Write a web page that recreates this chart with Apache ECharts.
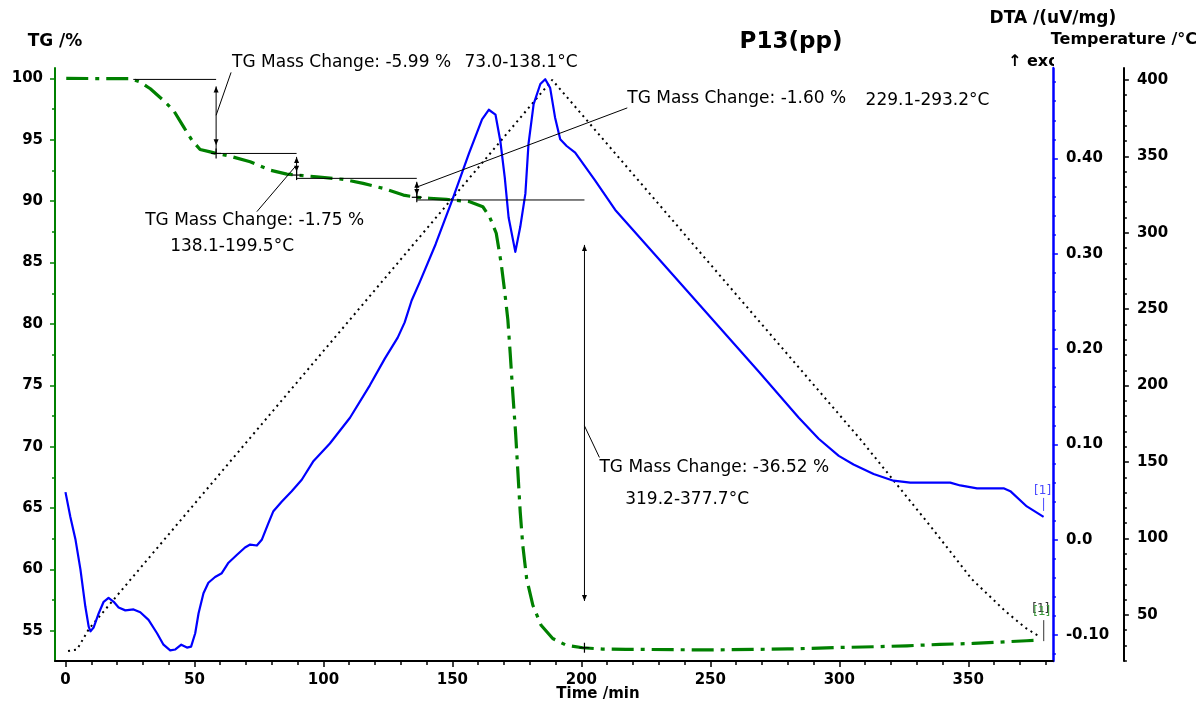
<!DOCTYPE html>
<html>
<head>
<meta charset="utf-8">
<script src="https://cdn.jsdelivr.net/npm/echarts@6/dist/echarts.min.js"></script>
<style>html,body{margin:0;padding:0;background:#fff}#chart{width:1200px;height:701px}</style>
</head>
<body>
<div id="chart"></div>
<script>
// ---------------- data ----------------
// time in min
const timeMajorTicks = [0, 50, 100, 150, 200, 250, 300, 350];
const tgMajorTicks = [55, 60, 65, 70, 75, 80, 85, 90, 95, 100];
const dtaMajorTicks = [-0.1, 0, 0.1, 0.2, 0.3, 0.4];
const tempMajorTicks = [50, 100, 150, 200, 250, 300, 350, 400];

// axis extents
const X_MIN = -4.06, X_MAX = 382.8;
const TG_MIN = 52.55, TG_MAX = 100.85;
const DTA_MIN = -0.1271, DTA_MAX = 0.4948;
const TEMP_MIN = 19.8, TEMP_MAX = 407.8;

// TG /% versus time
const tgData = [
  [0.3,100.0],[25.1,99.98],[29.0,99.70],[32.9,99.16],[38.0,98.21],[41.9,97.40],[45.8,96.05],
  [49.0,94.97],[52.2,94.21],[56.1,94.02],[58.4,93.89],[63.8,93.67],[71.6,93.21],[79.3,92.53],
  [85.8,92.21],[89.6,92.13],[97.4,91.99],[107.7,91.78],[115.4,91.45],[123.1,91.05],[131.0,90.50],
  [136.1,90.32],[141.2,90.24],[147.7,90.15],[156.7,89.96],[161.8,89.55],[164.4,88.74],[167.0,87.39],
  [168.9,84.96],[170.2,82.79],[171.5,80.36],[172.4,77.65],[173.4,74.41],[174.5,71.16],[175.4,67.91],
  [176.3,64.67],[177.3,61.96],[178.8,59.25],[181.2,57.09],[184.4,55.46],[188.9,54.38],[194.1,53.84],
  [200.5,53.63],[208.2,53.52],[217.3,53.50],[250.0,53.45],[280.0,53.53],[300.0,53.65],[313.3,53.71],
  [326.2,53.79],[339.0,53.90],[352.0,53.98],[365.0,54.12],[372.6,54.20],[377.7,54.25]
];

// DTA /(uV/mg) versus time
const dtaData = [
  [0,0.050],[1.9,0.024],[3.9,0.000],[5.8,-0.031],[7.7,-0.070],[9.0,-0.091],[9.7,-0.096],[10.9,-0.092],
  [12.9,-0.077],[14.8,-0.065],[16.7,-0.061],[18.7,-0.065],[20.6,-0.071],[23.2,-0.074],[26.4,-0.073],
  [29.0,-0.076],[32.2,-0.084],[35.5,-0.098],[38.0,-0.110],[40.6,-0.116],[42.6,-0.115],[44.9,-0.110],
  [47.1,-0.113],[48.7,-0.112],[50.3,-0.098],[51.6,-0.077],[53.5,-0.056],[55.4,-0.045],[58.0,-0.039],
  [60.6,-0.035],[63.2,-0.024],[66.4,-0.016],[69.6,-0.008],[71.6,-0.005],[74.2,-0.006],[76.1,0.000],
  [78.6,0.017],[80.6,0.030],[83.8,0.040],[87.7,0.051],[91.6,0.063],[96.0,0.082],[102.5,0.101],
  [110.3,0.128],[118.0,0.162],[123.8,0.190],[128.8,0.212],[131.5,0.228],[134.2,0.251],[137.3,0.270],
  [143.5,0.310],[149.9,0.356],[156.4,0.405],[161.5,0.441],[164.1,0.451],[166.7,0.446],[168.6,0.418],
  [170.3,0.380],[171.8,0.338],[174.4,0.302],[176.3,0.328],[178.3,0.363],[179.5,0.415],[181.5,0.457],
  [184.1,0.478],[186.0,0.483],[187.9,0.474],[189.8,0.443],[191.8,0.420],[194.3,0.413],[197.6,0.406],
  [205.3,0.377],[213.4,0.345],[230.2,0.294],[245.6,0.247],[268.9,0.176],[284.3,0.128],[292.0,0.106],
  [299.8,0.088],[305.5,0.079],[313.3,0.069],[321.0,0.062],[327.5,0.060],[343.0,0.060],[346.9,0.057],
  [353.4,0.054],[363.7,0.054],[366.3,0.051],[372.7,0.035],[379.2,0.024]
];

// Temperature /°C versus time
const tempData = [
  [1.0,26.3],[4.5,27.3],[9.0,40.6],[188.7,400.0],[308.2,164.8],[335.3,108.1],
  [351.4,73.3],[364.3,52.5],[372.0,41.7],[377.2,36.2]
];

// TG step annotations (time, TG %)
const stepLabels = ['TG Mass Change: -5.99 %', 'TG Mass Change: -1.75 %', 'TG Mass Change: -1.60 %', 'TG Mass Change: -36.52 %'];
const stepRanges = ['73.0-138.1°C', '138.1-199.5°C', '229.1-293.2°C', '319.2-377.7°C'];
const stepStartT = [26.3, 58.4, 89.6, 136.2];
const stepEndT = [58.4, 89.6, 136.2, 201.2];
const stepTopTG = [99.92, 93.89, 91.86, 90.10];
const stepBottomTG = [93.89, 92.13, 90.32, 53.63];
const arrowTopTG = [99.35, 93.61, 91.58, 86.44];
const arrowBottomTG = [94.55, 92.39, 90.50, 57.44];
const leaderFrom = [[58.4, 97.0], [89.0, 92.8], [136.2, 91.15], [201.2, 71.7]];
const leaderTo = [[64.2, 100.49], [74.2, 89.15], [217.8, 97.6], [207.0, 69.13]];
const labelPos = [[64.6, 101.30], [30.9, 88.39], [217.8, 98.40], [207.0, 68.34]];
const rangePos = [[154.7, 101.30], [40.6, 86.28], [310.2, 98.20], [217.0, 65.73]];

// ---------------- chart ----------------
function minorTicks(min, max, step, majors) {
  const out = [];
  for (let v = Math.ceil(min / step) * step; v <= max + 1e-9; v += step) {
    const r = Math.round(v * 1000) / 1000;
    if (!majors.some(m => Math.abs(m - r) < 1e-6)) out.push(r);
  }
  return out;
}
const FONT = 'DejaVu Sans';
const lblStyle = { color: '#000', fontFamily: FONT, fontWeight: 'bold', fontSize: 15 };
const nameStyle = (size) => ({ color: '#000', fontFamily: FONT, fontWeight: 'bold', fontSize: size });

const chart = echarts.init(document.getElementById('chart'), null, { renderer: 'canvas' });

function mainY(opts) {
  return Object.assign({
    type: 'value', gridIndex: 0, splitLine: { show: false }, scale: true
  }, opts);
}

const option = {
  animation: false,
  backgroundColor: '#fff',
  textStyle: { fontFamily: FONT },
  grid: { left: 55, right: 145, top: 68, bottom: 40 },
  xAxis: [
    {
      type: 'value', min: X_MIN, max: X_MAX, position: 'bottom',
      axisLine: { show: true, onZero: false, lineStyle: { color: '#000', width: 2 } },
      axisTick: { show: true, length: 6, lineStyle: { color: '#000', width: 1.5 }, customValues: timeMajorTicks },
      axisLabel: { customValues: timeMajorTicks, margin: 12, ...lblStyle },
      splitLine: { show: false }
    },
    {
      type: 'value', min: X_MIN, max: X_MAX, position: 'bottom',
      axisLine: { show: false, onZero: false },
      axisTick: { show: true, length: 4, lineStyle: { color: '#000', width: 1.5 }, customValues: minorTicks(X_MIN, X_MAX, 10, timeMajorTicks) },
      axisLabel: { show: false }, splitLine: { show: false }
    }
  ],
  yAxis: [
    mainY({
      min: TG_MIN, max: TG_MAX, position: 'left',
      name: 'TG /%', nameLocation: 'end', nameGap: 18, nameTextStyle: nameStyle(17),
      axisLine: { show: true, onZero: false, lineStyle: { color: '#008000', width: 2 } },
      axisTick: { show: true, length: 5, lineStyle: { color: '#008000', width: 1.5 }, customValues: tgMajorTicks },
      axisLabel: { customValues: tgMajorTicks, margin: 12, ...lblStyle }
    }),
    mainY({
      min: TG_MIN, max: TG_MAX, position: 'left',
      axisLine: { show: false, onZero: false },
      axisTick: { show: true, length: 3, lineStyle: { color: '#008000', width: 1.5 }, customValues: minorTicks(TG_MIN, TG_MAX, 2.5, tgMajorTicks) },
      axisLabel: { show: false }
    }),
    mainY({
      min: DTA_MIN, max: DTA_MAX, position: 'right', offset: 0,
      name: 'DTA /(uV/mg)', nameLocation: 'end', nameGap: 41, nameTextStyle: nameStyle(17),
      axisLine: { show: true, onZero: false, lineStyle: { color: '#0000ff', width: 2.5 } },
      axisTick: { show: true, length: 5, lineStyle: { color: '#0000ff', width: 1.5 }, customValues: dtaMajorTicks },
      axisLabel: { customValues: dtaMajorTicks, margin: 13, ...lblStyle,
        formatter: v => (Math.abs(v) < 1e-9 ? '0.0' : v.toFixed(2)) }
    }),
    mainY({
      min: DTA_MIN, max: DTA_MAX, position: 'right', offset: 0,
      axisLine: { show: false, onZero: false },
      axisTick: { show: true, length: 3, lineStyle: { color: '#0000ff', width: 1.5 }, customValues: minorTicks(DTA_MIN, DTA_MAX, 0.02, dtaMajorTicks) },
      axisLabel: { show: false }
    }),
    mainY({
      min: TEMP_MIN, max: TEMP_MAX, position: 'right', offset: 71,
      name: 'Temperature /°C', nameLocation: 'end', nameGap: 20, nameTextStyle: nameStyle(16),
      axisLine: { show: true, onZero: false, lineStyle: { color: '#000', width: 2 } },
      axisTick: { show: true, length: 5, lineStyle: { color: '#000', width: 1.5 }, customValues: tempMajorTicks },
      axisLabel: { customValues: tempMajorTicks, margin: 13, ...lblStyle }
    }),
    mainY({
      min: TEMP_MIN, max: TEMP_MAX, position: 'right', offset: 71,
      axisLine: { show: false, onZero: false },
      axisTick: { show: true, length: 3, lineStyle: { color: '#000', width: 1.5 }, customValues: minorTicks(TEMP_MIN, TEMP_MAX, 10, tempMajorTicks) },
      axisLabel: { show: false }
    })
  ],
  series: [
    {
      name: 'Temperature', type: 'line', xAxisIndex: 0, yAxisIndex: 4, data: tempData,
      showSymbol: false, symbol: 'none', z: 2,
      lineStyle: { color: '#000', width: 2, type: [2, 4], cap: 'butt' }
    },
    {
      name: 'DTA', type: 'line', xAxisIndex: 0, yAxisIndex: 2, data: dtaData,
      showSymbol: false, symbol: 'none', smooth: false, z: 3,
      lineStyle: { color: '#0000ff', width: 2.2, join: 'round' }
    },
    {
      name: 'TG', type: 'line', xAxisIndex: 0, yAxisIndex: 0, data: tgData,
      showSymbol: false, symbol: 'none', smooth: false, z: 4,
      lineStyle: { color: '#008000', width: 3.2, type: [22, 7, 4, 7], cap: 'butt', join: 'round' }
    }
  ]
};
chart.setOption(option);

// ---------------- annotations (positioned through the axes) ----------------
function px(t, v, yi) { return chart.convertToPixel({ xAxisIndex: 0, yAxisIndex: yi || 0 }, [t, v]); }
const g = [];
const K = '#000';
function seg(a, b, color, w) {
  g.push({ type: 'line', z: 50, shape: { x1: a[0], y1: a[1], x2: b[0], y2: b[1] }, style: { stroke: color || K, lineWidth: w || 1 } });
}
function arrowHead(p, dir) { // dir -1 = up, +1 = down
  g.push({ type: 'polygon', z: 51, shape: { points: [[p[0], p[1]], [p[0] - 2.5, p[1] - dir * 6], [p[0] + 2.5, p[1] - dir * 6]] }, style: { fill: K } });
}
function cross(p) {
  seg([p[0] - 5, p[1]], [p[0] + 5, p[1]], K, 1.2);
  seg([p[0], p[1] - 5], [p[0], p[1] + 5], K, 1.2);
}
function text(p, s, opts) {
  g.push(Object.assign({ type: 'text', z: 60, x: p[0], y: p[1],
    style: Object.assign({ text: s, fill: '#000', fontFamily: FONT, fontSize: 17, align: 'left', verticalAlign: 'middle' }, opts || {}) }));
}

for (let i = 0; i < stepLabels.length; i++) {
  const h1 = px(stepStartT[i], stepTopTG[i]);
  const h2 = px(stepEndT[i], stepTopTG[i]);
  seg(h1, h2);
  const aTop = px(stepEndT[i], arrowTopTG[i]);
  const aBot = px(stepEndT[i], arrowBottomTG[i]);
  const bot = px(stepEndT[i], stepBottomTG[i]);
  if (i < 3) { seg(aTop, bot); } else { seg(aTop, aBot); }
  arrowHead(aTop, -1);
  arrowHead(aBot, 1);
  cross(bot);
  seg(px(leaderFrom[i][0], leaderFrom[i][1]), px(leaderTo[i][0], leaderTo[i][1]));
  text(px(labelPos[i][0], labelPos[i][1]), stepLabels[i]);
  text(px(rangePos[i][0], rangePos[i][1]), stepRanges[i]);
}

// curve end markers "[1]"
const dtaEnd = dtaData[dtaData.length - 1];
const pD = px(dtaEnd[0], dtaEnd[1], 2);
text([pD[0] - 1, pD[1] - 26], '[1]', { fontSize: 12, fill: '#4a4aff', align: 'center' });
seg([pD[0], pD[1] - 19], [pD[0], pD[1] - 6], '#4a4aff', 1);
const tgEnd = tgData[tgData.length - 1];
const pT = px(tgEnd[0], tgEnd[1], 0);
text([pT[0] + 1, pT[1] - 31], '[1]', { fontSize: 12, fill: '#333', align: 'center' });
text([pT[0] + 2, pT[1] - 28], '[1]', { fontSize: 12, fill: '#3a9a3a', align: 'center' });
seg([pT[0] + 4, pT[1] - 20], [pT[0] + 4, pT[1] + 1], '#333', 1);

// title and axis captions
g.push({ type: 'text', z: 60, x: 791, y: 42, style: { text: 'P13(pp)', fill: '#000', fontFamily: FONT, fontWeight: 'bold', fontSize: 23, align: 'center', verticalAlign: 'middle' } });
g.push({ type: 'text', z: 60, x: 598, y: 694, style: { text: 'Time /min', fill: '#000', fontFamily: FONT, fontWeight: 'bold', fontSize: 15, align: 'center', verticalAlign: 'middle' } });
g.push({ type: 'text', z: 40, x: 1008, y: 62, style: { text: '↑ exo', fill: '#000', fontFamily: FONT, fontWeight: 'bold', fontSize: 16, align: 'left', verticalAlign: 'middle' } });
// the caption is cut off at the DTA axis in the reference
g.push({ type: 'rect', z: 45, shape: { x: 1054, y: 50, width: 12, height: 17.5 }, style: { fill: '#fff' } });

chart.setOption({ graphic: g });
</script>
</body>
</html>
